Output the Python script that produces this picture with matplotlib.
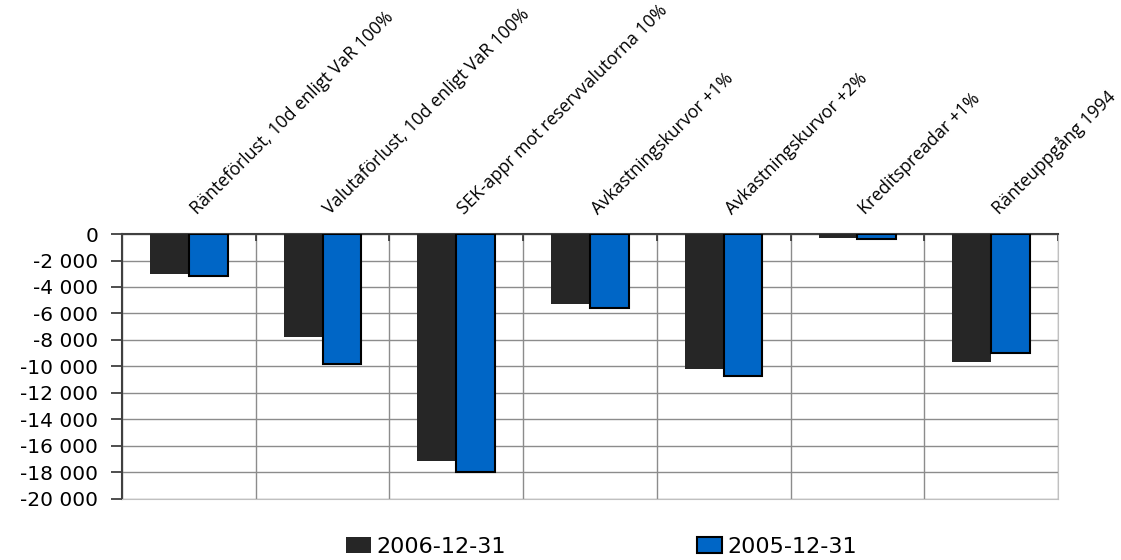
import matplotlib.pyplot as plt
import matplotlib.transforms as mtransforms
import numpy as np

plt.rcParams['font.family'] = ['Open Sans', 'DejaVu Sans']

# stresstest scenarios, result in MSEK
scenarios = ['Ränteförlust, 10d enligt VaR 100%',
             'Valutaförlust, 10d enligt VaR 100%',
             'SEK-appr mot reservvalutorna 10%',
             'Avkastningskurvor +1%',
             'Avkastningskurvor +2%',
             'Kreditspreadar +1%',
             'Ränteuppgång 1994']
res_2006 = [-3050, -7800, -17200, -5300, -10200, -300, -9700]
res_2005 = [-3200, -9850, -18000, -5600, -10700, -350, -9000]
yticks = np.arange(-20000, 1, 2000)

x = np.arange(len(scenarios))
w = 0.29

fig = plt.figure(figsize=(11.21, 5.6), dpi=100)
ax = fig.add_axes([0.1088, 0.1098, 0.8350, 0.4722])

b1 = ax.bar(x - w/2, res_2006, w, color='#262626', label='2006-12-31', zorder=3)
b2 = ax.bar(x + w/2, res_2005, w, color='#0066c6', edgecolor='black',
            linewidth=1.5, label='2005-12-31', zorder=3)

ax.set_xlim(-0.5, len(scenarios) - 0.5)
ax.set_ylim(-20000, 0)
ax.set_yticks(yticks)
ax.set_yticklabels([('-' if v < 0 else '') + format(abs(v), ',').replace(',', ' ') for v in yticks],
                   family='DejaVu Sans')
ax.tick_params(axis='y', direction='out', length=8, width=1.2, color='#303030',
               labelsize=14.5, pad=9)

# category separators as vertical grid, ticks on the zero line
bounds = np.arange(len(scenarios) + 1) - 0.5
ax.set_xticks(bounds)
ax.xaxis.tick_top()
ax.tick_params(axis='x', direction='in', length=5, width=1.2, color='#303030',
               labeltop=False, labelbottom=False)
ax.grid(True, color='#8c8c8c', linewidth=1, zorder=0)
ax.set_axisbelow(True)

ax.spines['left'].set_color('#404040')
ax.spines['left'].set_linewidth(1.5)
ax.spines['top'].set_color('#404040')
ax.spines['top'].set_linewidth(1.5)
ax.spines['bottom'].set_color('#c0c0c0')
ax.spines['right'].set_color('#c0c0c0')

# slanted category names above the plot
for i, name in enumerate(scenarios):
    tr = mtransforms.offset_copy(ax.transData, fig=fig, x=8, y=19, units='dots')
    ax.text(i, 0, name, transform=tr, rotation=45, rotation_mode='anchor',
            ha='left', va='baseline', fontsize=12.8, clip_on=False)

fig.legend(handles=[b1, b2], loc='center', bbox_to_anchor=(0.5366, 0.024), ncol=2,
           frameon=False, prop={'family': 'DejaVu Sans', 'size': 16},
           handlelength=1.13, handleheight=0.7, handletextpad=0.25, columnspacing=8.6)

fig.savefig('out.png', dpi=100)
